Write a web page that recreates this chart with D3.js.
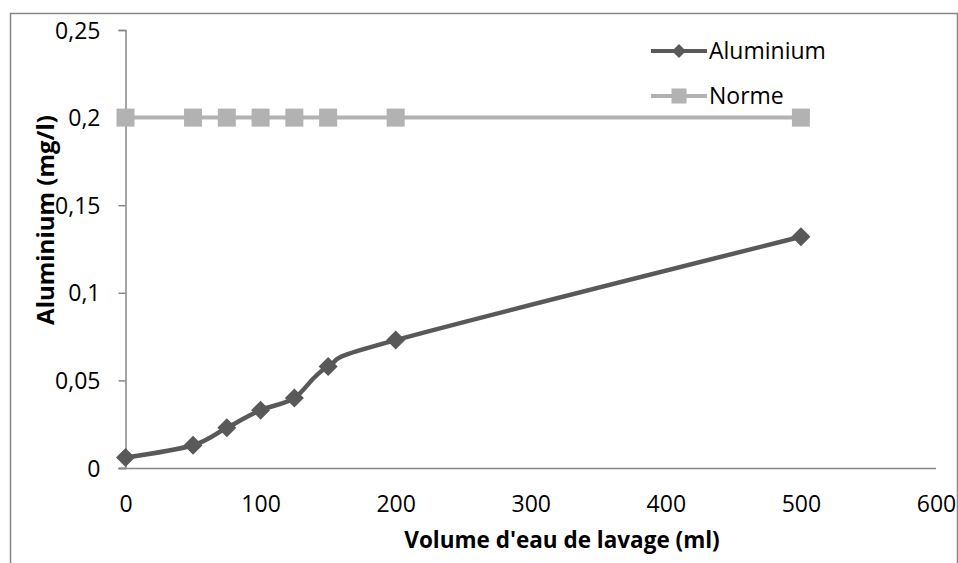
<!DOCTYPE html>
<html>
<head>
<meta charset="utf-8">
<script src="https://cdn.jsdelivr.net/npm/d3@7"></script>
<style>
  html, body { margin: 0; padding: 0; background: #fff; }
  svg { display: block; font-family: "Open Sans", "Noto Sans", sans-serif; }
</style>
</head>
<body>
<svg id="chart" width="958" height="563"></svg>
<script>
// ---- data ----
const volumes = [0, 50, 75, 100, 125, 150, 200, 500];
const aluminium = [0.006, 0.013, 0.023, 0.033, 0.040, 0.058, 0.073, 0.132];
const norme = [0.2, 0.2, 0.2, 0.2, 0.2, 0.2, 0.2, 0.2];
const seriesNames = ["Aluminium", "Norme"];
const xTicks = [0, 100, 200, 300, 400, 500, 600];
const yTicks = [0, 0.05, 0.1, 0.15, 0.2, 0.25];
const xTitle = "Volume d'eau de lavage (ml)";
const yTitle = "Aluminium (mg/l)";

// ---- layout ----
const svg = d3.select("#chart");
const W = 958, H = 563;
const plot = { left: 125.5, right: 936, top: 30, bottom: 468 };
const axisColor = "#868686";
const colAl = "#595959", colNo = "#b2b2b2";
const fmt = v => String(+v.toFixed(2)).replace(".", ",");

const x = d3.scaleLinear().domain([0, 600]).range([plot.left, plot.right]);
const y = d3.scaleLinear().domain([0, 0.25]).range([plot.bottom, plot.top]);

// outer frame
svg.append("path")
  .attr("d", `M10.5,${H} V13.5 H${W - 0.5} V${H}`)
  .attr("fill", "none").attr("stroke", axisColor).attr("stroke-width", 1.5);

// y axis
const yAxis = svg.append("g")
  .attr("transform", `translate(${plot.left},0)`)
  .call(d3.axisLeft(y).tickValues(yTicks).tickFormat(fmt).tickSize(7).tickPadding(18));
yAxis.select(".domain").attr("stroke", axisColor).attr("stroke-width", 1.5);
yAxis.selectAll(".tick line").attr("stroke", axisColor).attr("stroke-width", 1.5);
yAxis.selectAll(".tick text").attr("fill", "#000").style("font-size", "23px")
  .style("font-family", "'Open Sans', sans-serif").attr("dy", "0.35em");

// x axis
const xAxis = svg.append("g")
  .attr("transform", `translate(0,${plot.bottom})`)
  .call(d3.axisBottom(x).tickValues(xTicks).tickSize(0).tickPadding(24).tickSizeOuter(0));
xAxis.select(".domain").attr("stroke", axisColor).attr("stroke-width", 1.5)
  .attr("d", `M${plot.left - 7},0.5H${plot.right}`);
xAxis.selectAll(".tick text").attr("fill", "#000").style("font-size", "23px")
  .style("font-family", "'Open Sans', sans-serif").attr("dy", "0.35em").attr("y", 36);

// axis titles
svg.append("text")
  .attr("x", 562).attr("y", 548)
  .attr("text-anchor", "middle")
  .style("font-size", "22.5px").style("font-weight", "bold")
  .text(xTitle);
svg.append("text")
  .attr("transform", `translate(54,220) rotate(-90)`)
  .attr("text-anchor", "middle")
  .style("font-size", "24px").style("font-weight", "bold")
  .text(yTitle);

// lines
const smooth = d3.line().x(d => x(d[0])).y(d => y(d[1])).curve(d3.curveCatmullRom.alpha(0));
const straight = d3.line().x(d => x(d[0])).y(d => y(d[1]));

const noData = volumes.map((v, i) => [v, norme[i]]);
const alData = volumes.map((v, i) => [v, aluminium[i]]);

svg.append("path").attr("d", straight(noData))
  .attr("fill", "none").attr("stroke", colNo).attr("stroke-width", 4);
svg.selectAll("rect.no").data(noData).enter().append("rect")
  .attr("x", d => x(d[0]) - 9).attr("y", d => y(d[1]) - 9)
  .attr("width", 18).attr("height", 18).attr("fill", colNo);

svg.append("path").attr("d", smooth(alData))
  .attr("fill", "none").attr("stroke", colAl).attr("stroke-width", 4.5);
const diamond = r => `M0,${-r}L${r},0L0,${r}L${-r},0Z`;
svg.selectAll("path.al").data(alData).enter().append("path")
  .attr("transform", d => `translate(${x(d[0])},${y(d[1])})`)
  .attr("d", diamond(9.5)).attr("fill", colAl);

// legend
const legend = [
  { name: seriesNames[0], color: colAl, y: 51, marker: "diamond" },
  { name: seriesNames[1], color: colNo, y: 96, marker: "square" }
];
legend.forEach(l => {
  svg.append("line").attr("x1", 651).attr("x2", 707).attr("y1", l.y).attr("y2", l.y)
    .attr("stroke", l.color).attr("stroke-width", 4);
  if (l.marker === "diamond") {
    svg.append("path").attr("transform", `translate(679,${l.y})`).attr("d", diamond(7)).attr("fill", l.color);
  } else {
    svg.append("rect").attr("x", 679 - 7.5).attr("y", l.y - 7.5).attr("width", 15).attr("height", 15).attr("fill", l.color);
  }
  svg.append("text").attr("x", 709).attr("y", l.y).attr("dy", "0.35em")
    .style("font-size", "23px").text(l.name);
});
</script>
</body>
</html>
